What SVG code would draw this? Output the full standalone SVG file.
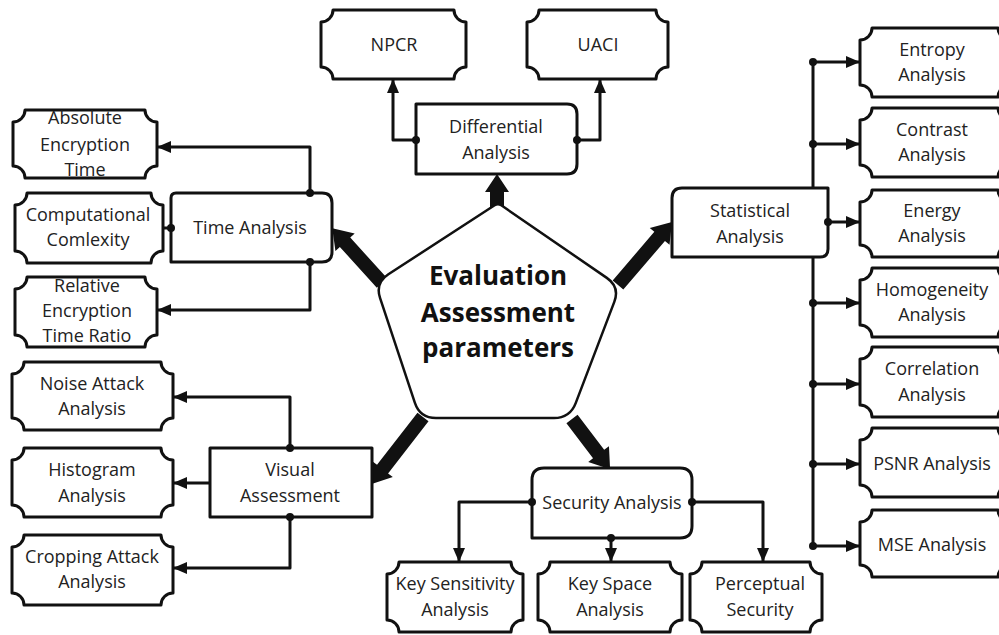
<svg xmlns="http://www.w3.org/2000/svg" width="999" height="635" viewBox="0 0 999 635">
<defs>
<style>
.bx{fill:#fff;stroke:#111;stroke-width:3;stroke-linejoin:round}
.t{font-family:"Open Sans","Liberation Sans",sans-serif;font-size:18px;fill:#222;text-anchor:middle}
.tb{font-family:"Open Sans","Liberation Sans",sans-serif;font-size:26px;font-weight:bold;fill:#111;text-anchor:middle}
.cn{fill:none;stroke:#111;stroke-width:3;stroke-linejoin:round}
.ar{marker-end:url(#ah)}
.dot{fill:#111}
.big{fill:#111}
</style>
<marker id="ah" markerUnits="userSpaceOnUse" markerWidth="14" markerHeight="12" refX="13" refY="6" orient="auto">
<path d="M0,0 L14,6 L0,12 Z" fill="#111"/>
</marker>
</defs>
<rect width="999" height="635" fill="#fff"/>

<g id="thick-arrows">
<g transform="translate(497,210) rotate(-90)"><path class="big" d="M0,-7 H18 V-12 L36,0 L18,12 V7 H0 Z"/></g>
<g transform="translate(382,283) rotate(227.8)"><path class="big" d="M0,-7 H55 V-13 L74,0 L55,13 V7 H0 Z"/></g>
<g transform="translate(618,285) rotate(-49.4)"><path class="big" d="M0,-7 H64 V-13 L83,0 L64,13 V7 H0 Z"/></g>
<g transform="translate(423,417) rotate(127.8)"><path class="big" d="M0,-7 H66 V-13 L85,0 L66,13 V7 H0 Z"/></g>
<g transform="translate(572,419) rotate(52.8)"><path class="big" d="M0,-7 H44 V-13 L63,0 L44,13 V7 H0 Z"/></g>
</g>

<g id="center">
<path d="M501.3,205.3 L606.8,277.9 Q620,287 614.3,301.9 L575.7,403.1 Q570,418 554,418 L436,418 Q420,418 414.9,402.8 L380.1,298.2 Q375,283 388.4,274.3 L494.6,205.2 Q498,203 501.3,205.3 Z" fill="#fff" stroke="#111" stroke-width="2.5"/>
<text class="tb" x="498" y="285">Evaluation</text>
<text class="tb" x="498" y="322">Assessment</text>
<text class="tb" x="498" y="357">parameters</text>
</g>

<g id="differential">
<path class="bx" d="M416,104 H567 Q577,104 577,114 V164 Q577,174 567,174 H416 Z"/>
<text class="t" x="496" y="133">Differential</text>
<text class="t" x="496" y="159">Analysis</text>
</g>
<g id="npcr">
<path class="bx" d="M333,10 H454 A12,12 0 0 0 466,22 V67 A12,12 0 0 0 454,79 H333 A12,12 0 0 0 321,67 V22 A12,12 0 0 0 333,10 Z"/>
<text class="t" x="394" y="51">NPCR</text>
</g>
<g id="uaci">
<path class="bx" d="M539,10 H656 A12,12 0 0 0 668,22 V67 A12,12 0 0 0 656,79 H539 A12,12 0 0 0 527,67 V22 A12,12 0 0 0 539,10 Z"/>
<text class="t" x="598" y="51">UACI</text>
</g>

<g id="time">
<path class="bx" d="M176,193 H322 Q332,193 332,203 V252 Q332,262 322,262 H171 V198 Q171,193 176,193 Z"/>
<text class="t" x="250" y="234">Time Analysis</text>
</g>
<g id="absolute">
<path class="bx" d="M25,110 H145 A12,12 0 0 0 157,122 V166 A12,12 0 0 0 145,178 H25 A12,12 0 0 0 13,166 V122 A12,12 0 0 0 25,110 Z"/>
<text class="t" x="85" y="124">Absolute</text>
<text class="t" x="85" y="151">Encryption</text>
<text class="t" x="85" y="176">Time</text>
</g>
<g id="computational">
<path class="bx" d="M27,193 H151 A12,12 0 0 0 163,205 V251 A12,12 0 0 0 151,263 H27 A12,12 0 0 0 15,251 V205 A12,12 0 0 0 27,193 Z"/>
<text class="t" x="88" y="221">Computational</text>
<text class="t" x="88" y="246">Comlexity</text>
</g>
<g id="relative">
<path class="bx" d="M27,277 H145 A12,12 0 0 0 157,289 V335 A12,12 0 0 0 145,347 H27 A12,12 0 0 0 15,335 V289 A12,12 0 0 0 27,277 Z"/>
<text class="t" x="87" y="292">Relative</text>
<text class="t" x="87" y="317">Encryption</text>
<text class="t" x="87" y="342">Time Ratio</text>
</g>

<g id="visual">
<rect class="bx" x="210" y="448" width="162" height="69"/>
<text class="t" x="290" y="476">Visual</text>
<text class="t" x="290" y="502">Assessment</text>
</g>
<g id="noise">
<path class="bx" d="M24,362 H161 A12,12 0 0 0 173,374 V418 A12,12 0 0 0 161,430 H24 A12,12 0 0 0 12,418 V374 A12,12 0 0 0 24,362 Z"/>
<text class="t" x="92" y="390">Noise Attack</text>
<text class="t" x="92" y="415">Analysis</text>
</g>
<g id="histogram">
<path class="bx" d="M24,448 H161 A12,12 0 0 0 173,460 V505 A12,12 0 0 0 161,517 H24 A12,12 0 0 0 12,505 V460 A12,12 0 0 0 24,448 Z"/>
<text class="t" x="92" y="476">Histogram</text>
<text class="t" x="92" y="502">Analysis</text>
</g>
<g id="cropping">
<path class="bx" d="M24,535 H161 A12,12 0 0 0 173,547 V593 A12,12 0 0 0 161,605 H24 A12,12 0 0 0 12,593 V547 A12,12 0 0 0 24,535 Z"/>
<text class="t" x="92" y="563">Cropping Attack</text>
<text class="t" x="92" y="588">Analysis</text>
</g>

<g id="security">
<path class="bx" d="M544,468 H680 Q692,468 692,480 V526 Q692,538 680,538 H532 V480 Q532,468 544,468 Z"/>
<text class="t" x="612" y="509">Security Analysis</text>
</g>
<g id="keysens">
<path class="bx" d="M399,562 H511 A12,12 0 0 0 523,574 V620 A12,12 0 0 0 511,632 H399 A12,12 0 0 0 387,620 V574 A12,12 0 0 0 399,562 Z"/>
<text class="t" x="455" y="590">Key Sensitivity</text>
<text class="t" x="455" y="616">Analysis</text>
</g>
<g id="keyspace">
<path class="bx" d="M550,562 H670 A12,12 0 0 0 682,574 V620 A12,12 0 0 0 670,632 H550 A12,12 0 0 0 538,620 V574 A12,12 0 0 0 550,562 Z"/>
<text class="t" x="610" y="590">Key Space</text>
<text class="t" x="610" y="616">Analysis</text>
</g>
<g id="perceptual">
<path class="bx" d="M702,562 H810 A12,12 0 0 0 822,574 V620 A12,12 0 0 0 810,632 H702 A12,12 0 0 0 690,620 V574 A12,12 0 0 0 702,562 Z"/>
<text class="t" x="760" y="590">Perceptual</text>
<text class="t" x="760" y="616">Security</text>
</g>

<g id="statistical">
<path class="bx" d="M682,188 H828 V249 Q828,257 820,257 H672 V198 Q672,188 682,188 Z"/>
<text class="t" x="750" y="217">Statistical</text>
<text class="t" x="750" y="243">Analysis</text>
</g>
<g id="entropy">
<path class="bx" d="M872,28 H998 A12,12 0 0 0 1010,40 V85 A12,12 0 0 0 998,97 H872 A12,12 0 0 0 860,85 V40 A12,12 0 0 0 872,28 Z"/>
<text class="t" x="932" y="56">Entropy</text>
<text class="t" x="932" y="81">Analysis</text>
</g>
<g id="contrast">
<path class="bx" d="M872,108 H998 A12,12 0 0 0 1010,120 V165 A12,12 0 0 0 998,177 H872 A12,12 0 0 0 860,165 V120 A12,12 0 0 0 872,108 Z"/>
<text class="t" x="932" y="136">Contrast</text>
<text class="t" x="932" y="161">Analysis</text>
</g>
<g id="energy">
<path class="bx" d="M872,190 H998 A12,12 0 0 0 1010,202 V245 A12,12 0 0 0 998,257 H872 A12,12 0 0 0 860,245 V202 A12,12 0 0 0 872,190 Z"/>
<text class="t" x="932" y="217">Energy</text>
<text class="t" x="932" y="242">Analysis</text>
</g>
<g id="homogeneity">
<path class="bx" d="M872,268 H998 A12,12 0 0 0 1010,280 V325 A12,12 0 0 0 998,337 H872 A12,12 0 0 0 860,325 V280 A12,12 0 0 0 872,268 Z"/>
<text class="t" x="932" y="296">Homogeneity</text>
<text class="t" x="932" y="321">Analysis</text>
</g>
<g id="correlation">
<path class="bx" d="M872,347 H998 A12,12 0 0 0 1010,359 V405 A12,12 0 0 0 998,417 H872 A12,12 0 0 0 860,405 V359 A12,12 0 0 0 872,347 Z"/>
<text class="t" x="932" y="375">Correlation</text>
<text class="t" x="932" y="401">Analysis</text>
</g>
<g id="psnr">
<path class="bx" d="M872,428 H998 A12,12 0 0 0 1010,440 V485 A12,12 0 0 0 998,497 H872 A12,12 0 0 0 860,485 V440 A12,12 0 0 0 872,428 Z"/>
<text class="t" x="932" y="470">PSNR Analysis</text>
</g>
<g id="mse">
<path class="bx" d="M872,510 H998 A12,12 0 0 0 1010,522 V565 A12,12 0 0 0 998,577 H872 A12,12 0 0 0 860,565 V522 A12,12 0 0 0 872,510 Z"/>
<text class="t" x="932" y="551">MSE Analysis</text>
</g>

<g id="connectors">
<path class="cn ar" d="M416,140 H393 V80"/>
<path class="cn ar" d="M577,140 H600 V80"/>
<path class="cn ar" d="M310,193 V147 H158"/>
<path class="cn" d="M171,228 H163"/>
<path class="cn ar" d="M310,262 V310 H158"/>
<path class="cn ar" d="M290,448 V397 H174"/>
<path class="cn ar" d="M210,483 H174"/>
<path class="cn ar" d="M290,517 V568 H174"/>
<path class="cn ar" d="M532,502 H459 V561"/>
<path class="cn ar" d="M611,538 V561"/>
<path class="cn ar" d="M692,502 H763 V561"/>
<path class="cn" d="M813,62 V188 M813,257 V546"/>
<path class="cn ar" d="M813,62 H859"/>
<path class="cn ar" d="M813,144 H859"/>
<path class="cn ar" d="M828,222 H859"/>
<path class="cn ar" d="M813,303 H859"/>
<path class="cn ar" d="M813,384 H859"/>
<path class="cn ar" d="M813,464 H859"/>
<path class="cn ar" d="M813,546 H859"/>
<circle class="dot" cx="416" cy="140" r="4"/>
<circle class="dot" cx="577" cy="140" r="4"/>
<circle class="dot" cx="310" cy="193" r="4"/>
<circle class="dot" cx="171" cy="228" r="4"/>
<circle class="dot" cx="310" cy="262" r="4"/>
<circle class="dot" cx="290" cy="448" r="4"/>
<circle class="dot" cx="290" cy="517" r="4"/>
<circle class="dot" cx="532" cy="502" r="4"/>
<circle class="dot" cx="611" cy="538" r="4"/>
<circle class="dot" cx="692" cy="502" r="4"/>
<circle class="dot" cx="813" cy="62" r="4"/>
<circle class="dot" cx="813" cy="144" r="4"/>
<circle class="dot" cx="828" cy="222" r="4"/>
<circle class="dot" cx="813" cy="303" r="4"/>
<circle class="dot" cx="813" cy="384" r="4"/>
<circle class="dot" cx="813" cy="464" r="4"/>
<circle class="dot" cx="813" cy="546" r="4"/>
</g>
</svg>
